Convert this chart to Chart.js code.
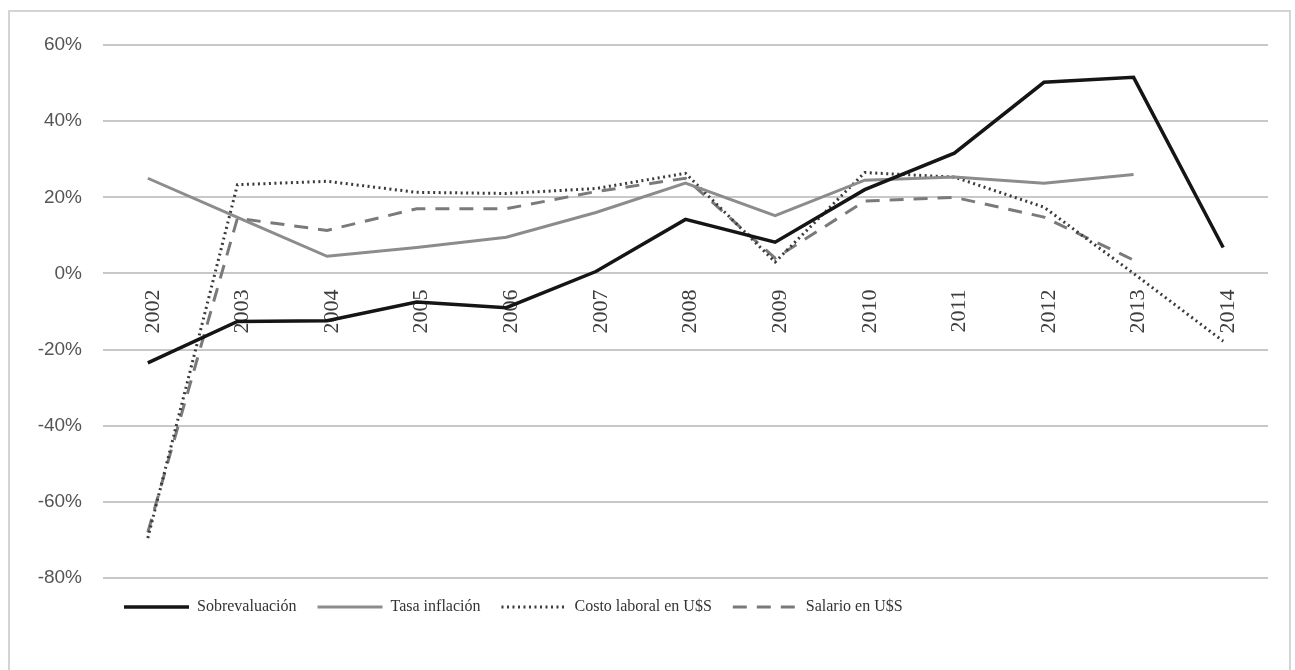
<!DOCTYPE html>
<html>
<head>
<meta charset="utf-8">
<script src="https://cdn.jsdelivr.net/npm/chart.js@4.4.1/dist/chart.umd.min.js"></script>
<style>
  body { margin: 0; background: #fff; }
  #frame {
    position: absolute; left: 8px; top: 10px;
    width: 1283px; height: 664px;
    box-sizing: border-box;
    border: 2px solid #d4d4d4;
  }
  #chart { display: block; }
</style>
</head>
<body>
<div id="frame"><canvas id="chart" width="1279" height="656"></canvas></div>
<script>
// Years on the category axis
const years = ['2002', '2003', '2004', '2005', '2006', '2007', '2008', '2009', '2010', '2011', '2012', '2013', '2014'];

// Series values, in percent
const sobrevaluacion = [-23.5, -12.6, -12.4, -7.5, -9, 0.5, 14.2, 8.2, 22, 31.6, 50.2, 51.5, 6.8];
const tasaInflacion = [25, 14.7, 4.5, 6.8, 9.5, 16, 23.7, 15.2, 24.5, 25.3, 23.7, 26, null];
const costoLaboral = [-69.5, 23.3, 24.2, 21.3, 21, 22.3, 26.3, 3, 26.5, 25.3, 17.4, 0, -17.8];
const salario = [-68, 14.5, 11.3, 17, 17, 21.5, 25, 4, 19, 20, 14.8, 3.5, null];

// Y axis ticks
const yMin = -80;
const yMax = 60;
const yStep = 20;

const serif = 'Liberation Serif';
const sans = 'Liberation Sans';

// legend samples keep the dash pattern of their line
function legendLabels(chart) {
  const items = Chart.defaults.plugins.legend.labels.generateLabels(chart);
  items.forEach(item => {
    const ds = chart.data.datasets[item.datasetIndex];
    item.lineDash = ds.borderDash || [];
    item.lineWidth = ds.borderWidth;
    item.strokeStyle = ds.borderColor;
  });
  return items;
}

const ctx = document.getElementById('chart').getContext('2d');

new Chart(ctx, {
  type: 'line',
  data: {
    labels: years,
    datasets: [
      {
        label: 'Sobrevaluación',
        data: sobrevaluacion,
        borderColor: '#151515',
        borderWidth: 3.5,
        pointRadius: 0,
        tension: 0
      },
      {
        label: 'Tasa inflación',
        data: tasaInflacion,
        borderColor: '#8c8c8c',
        borderWidth: 3,
        pointRadius: 0,
        tension: 0
      },
      {
        label: 'Costo laboral en U$S',
        data: costoLaboral,
        borderColor: '#3a3a3a',
        borderWidth: 3,
        borderDash: [2, 3.5],
        pointRadius: 0,
        tension: 0
      },
      {
        label: 'Salario en U$S',
        data: salario,
        borderColor: '#7a7a7a',
        borderWidth: 3,
        borderDash: [14, 10],
        pointRadius: 0,
        tension: 0
      }
    ]
  },
  options: {
    responsive: false,
    animation: false,
    layout: {
      padding: { left: 23, right: 21, top: 33, bottom: 43 }
    },
    plugins: {
      tooltip: { enabled: false },
      legend: {
        position: 'bottom',
        align: 'start',
        fullSize: false,
        labels: {
          usePointStyle: true,
          pointStyle: 'line',
          pointStyleWidth: 65,
          padding: 21,
          color: '#333',
          font: { family: serif, size: 16 },
          generateLabels: legendLabels
        }
      }
    },
    scales: {
      x: {
        position: { y: 0 },
        offset: true,
        grid: { display: false, drawTicks: false },
        border: { display: false },
        ticks: {
          minRotation: 90,
          maxRotation: 90,
          autoSkip: false,
          padding: 16,
          labelOffset: 5,
          color: '#3c3c3c',
          font: { family: serif, size: 22 }
        }
      },
      y: {
        min: yMin,
        max: yMax,
        afterFit: scale => { scale.width = 70; },
        grid: { color: '#c8c8c8', lineWidth: 2, drawTicks: false },
        border: { display: false },
        ticks: {
          stepSize: yStep,
          padding: 21,
          color: '#555',
          font: { family: sans, size: 19 },
          callback: v => v + '%'
        }
      }
    }
  }
});
</script>
</body>
</html>
